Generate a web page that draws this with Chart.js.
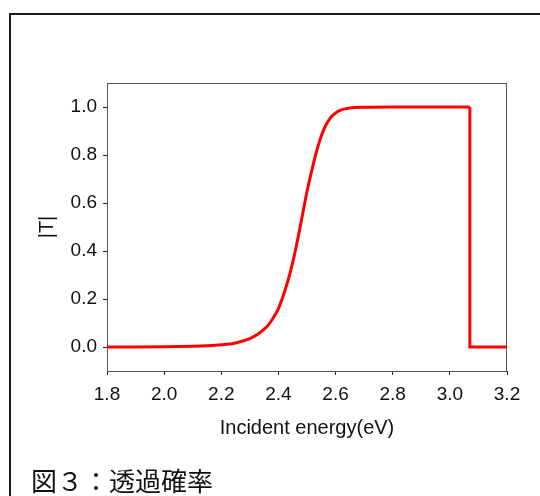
<!DOCTYPE html>
<html>
<head>
<meta charset="utf-8">
<script src="https://cdn.jsdelivr.net/npm/chart.js@4/dist/chart.umd.min.js"></script>
<style>
  html, body { margin: 0; padding: 0; background: #fff; overflow: hidden; }
  #wrap { position: relative; width: 540px; height: 496px; }
  #frame { position: absolute; left: 9px; top: 13px; width: 600px; height: 600px;
           border: 2px solid #1a1a1a; pointer-events: none; box-sizing: border-box; }
  #cap { position: absolute; left: 31px; top: 467px; font-family: "Noto Sans CJK JP", sans-serif;
         font-size: 26px; line-height: 26px; color: #111; white-space: nowrap; }
  canvas { position: absolute; left: 0; top: 0; }
</style>
</head>
<body>
<div id="wrap">
  <canvas id="c" width="540" height="496"></canvas>
  <div id="frame"></div>
  <div id="cap">図３：透過確率</div>
</div>
<script>
// Incident energy (eV) and |T|
const curveE = [1.80, 1.90, 2.00, 2.10, 2.15, 2.20, 2.25, 2.30, 2.33, 2.36, 2.38, 2.40, 2.42, 2.44, 2.46, 2.48, 2.50, 2.52, 2.54, 2.56, 2.58, 2.60, 2.62, 2.65, 2.70, 2.80, 2.90, 3.00, 3.07];
const curveT = [0.000, 0.000, 0.001, 0.003, 0.005, 0.009, 0.017, 0.035, 0.055, 0.085, 0.118, 0.160, 0.225, 0.305, 0.405, 0.525, 0.648, 0.752, 0.842, 0.910, 0.952, 0.975, 0.988, 0.996, 0.999, 1.000, 1.000, 1.000, 1.000];
// abrupt cut-off at 3.07 eV
const stepE = [3.07, 3.07, 3.20];
const stepT = [1.000, 0.000, 0.000];

const xTicks = [1.8, 2.0, 2.2, 2.4, 2.6, 2.8, 3.0, 3.2];
const yTicks = [0.0, 0.2, 0.4, 0.6, 0.8, 1.0];
const xTitle = 'Incident energy(eV)';
const yTitle = '|T|';

const toPts = (xs, ys) => xs.map((x, i) => ({ x: x, y: ys[i] }));

const boxPlugin = {
  id: 'box',
  beforeDatasetsDraw(chart) {
    const { ctx, chartArea: a } = chart;
    ctx.save();
    ctx.strokeStyle = '#555';
    ctx.lineWidth = 1;
    ctx.strokeRect(a.left + 0.5, a.top + 0.5, a.right - a.left - 1, a.bottom - a.top);
    ctx.restore();
  }
};

const tickFont = { family: '"Liberation Sans", Arial, sans-serif', size: 19 };
const titleFont = { family: '"Liberation Sans", Arial, sans-serif', size: 20 };

new Chart(document.getElementById('c'), {
  type: 'line',
  data: {
    datasets: [
      { data: toPts(curveE, curveT), borderColor: '#ff0000', borderWidth: 3, pointRadius: 0,
        cubicInterpolationMode: 'monotone', fill: false },
      { data: toPts(stepE, stepT), borderColor: '#ff0000', borderWidth: 3, pointRadius: 0,
        tension: 0, fill: false }
    ]
  },
  options: {
    responsive: false,
    animation: false,
    events: [],
    layout: { padding: { left: 0, top: 83, right: 33, bottom: 0 } },
    plugins: { legend: { display: false }, tooltip: { enabled: false } },
    scales: {
      x: {
        type: 'linear', min: 1.8, max: 3.2,
        afterBuildTicks: s => { s.ticks = xTicks.map(v => ({ value: v })); },
        afterFit: s => { s.height = 125; },
        grid: { display: true, drawOnChartArea: false, drawTicks: true, tickLength: 4, color: '#222' },
        border: { display: true, color: '#333', width: 1 },
        ticks: { color: '#111', font: tickFont, padding: 8, maxRotation: 0, autoSkip: false,
                 callback: v => Number(v).toFixed(1) },
        title: { display: true, text: xTitle, color: '#111', font: titleFont, padding: { top: 0, bottom: 56 } }
      },
      y: {
        type: 'linear', min: -0.1, max: 1.1,
        afterBuildTicks: s => { s.ticks = yTicks.map(v => ({ value: v })); },
        afterFit: s => { s.width = 107; },
        grid: { display: true, drawOnChartArea: false, drawTicks: true, tickLength: 4, color: '#222' },
        border: { display: true, color: '#333', width: 1 },
        ticks: { color: '#111', font: tickFont, padding: 6, autoSkip: false,
                 callback: v => Number(v).toFixed(1) },
        title: { display: true, text: yTitle, color: '#111', font: titleFont, padding: { top: 35, bottom: 0 } }
      }
    }
  },
  plugins: [boxPlugin]
});
</script>
</body>
</html>
